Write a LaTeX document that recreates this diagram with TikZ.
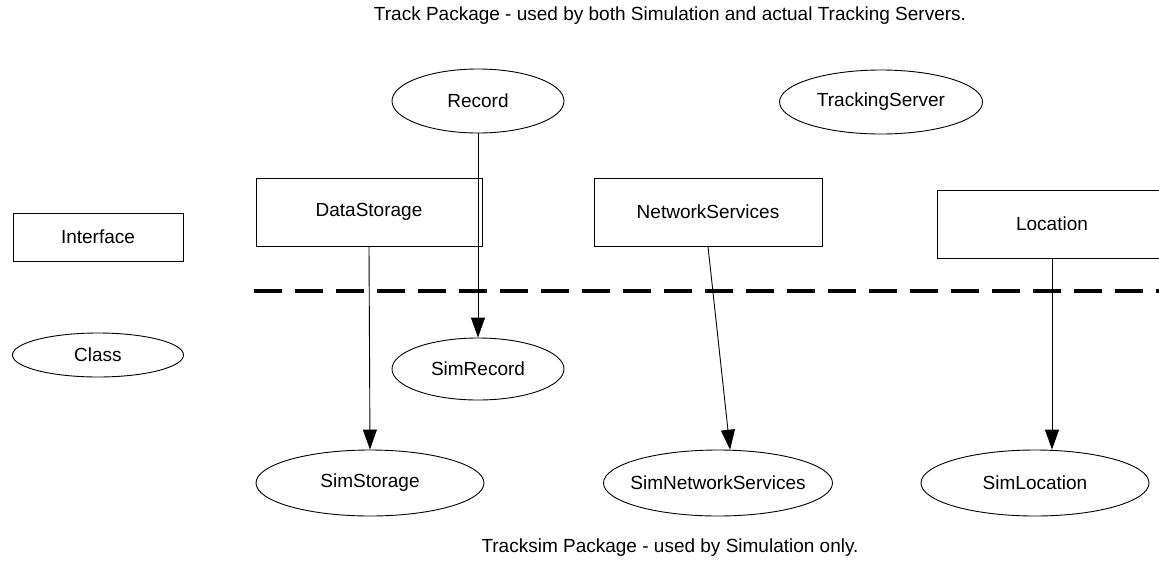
\documentclass[tikz,border=0pt]{standalone}
\usepackage{fontspec}
\setmainfont{Liberation Sans}
\usetikzlibrary{arrows.meta,shapes.geometric}

% zero-width label so the ellipse keeps its given size
\newcommand\ovallabel[1]{\makebox[0pt]{#1}}

\begin{document}
\begin{tikzpicture}[x=1pt,y=-1pt,
  every node/.style={font=\fontsize{19}{23}\selectfont, inner sep=0pt},
  iface/.style 2 args={draw, line width=0.9pt, rectangle, minimum width=#1, minimum height=#2},
  cls/.style 2 args={draw, line width=0.9pt, ellipse, minimum width=#1, minimum height=#2},
  realize/.style={line width=0.9pt, -{Triangle[length=20pt,width=14pt]}},
  boundary/.style={line width=3.4pt, dash pattern=on 28pt off 13pt}]
\useasboundingbox (0,0) rectangle (1159,574);

% package captions
\node (toptitle) at (670,16) {Track Package - used by both Simulation and actual Tracking Servers.};
\node (bottitle) at (670,548) {Tracksim Package - used by Simulation only.};

% legend
\node[iface={170pt}{48pt}] (legendif) at (98,237) {Interface};
\node[cls={171pt}{44pt}] (legendcls) at (98,355) {\ovallabel{Class}};

% track package
\node[cls={172pt}{64pt}] (record) at (478,101) {\ovallabel{Record}};
\node[cls={203pt}{64pt}] (tserver) at (881,102) {\ovallabel{TrackingServer}};
\node[iface={226pt}{68pt}] (dstore) at (369,212) {DataStorage};
\node[iface={228pt}{68pt}] (nserv) at (708,212) {NetworkServices};
\node[iface={230pt}{68pt}] (loc) at (1052,224) {Location};

% package boundary
\coordinate (bndL) at (254,291);
\coordinate (bndR) at (1175,291);
\draw[boundary] (bndL) -- (bndR);

% tracksim package
\node[cls={172pt}{62pt}] (simrec) at (478,369) {\ovallabel{SimRecord}};
\node[cls={228pt}{66pt}] (simstor) at (370,483) {\ovallabel{SimStorage}};
\node[cls={229pt}{66pt}] (simnet) at (718,483) {\ovallabel{SimNetworkServices}};
\node[cls={228pt}{66pt}] (simloc) at (1035,483) {\ovallabel{SimLocation}};

% implementations
\draw[realize] (record.south) -- (simrec.north);
\draw[realize] (dstore.south) -- (simstor.north);
\draw[realize] (nserv.south) -- (simnet.70);
\draw[realize] (loc.south) -- (loc.south |- simloc.north);
\end{tikzpicture}
\end{document}
